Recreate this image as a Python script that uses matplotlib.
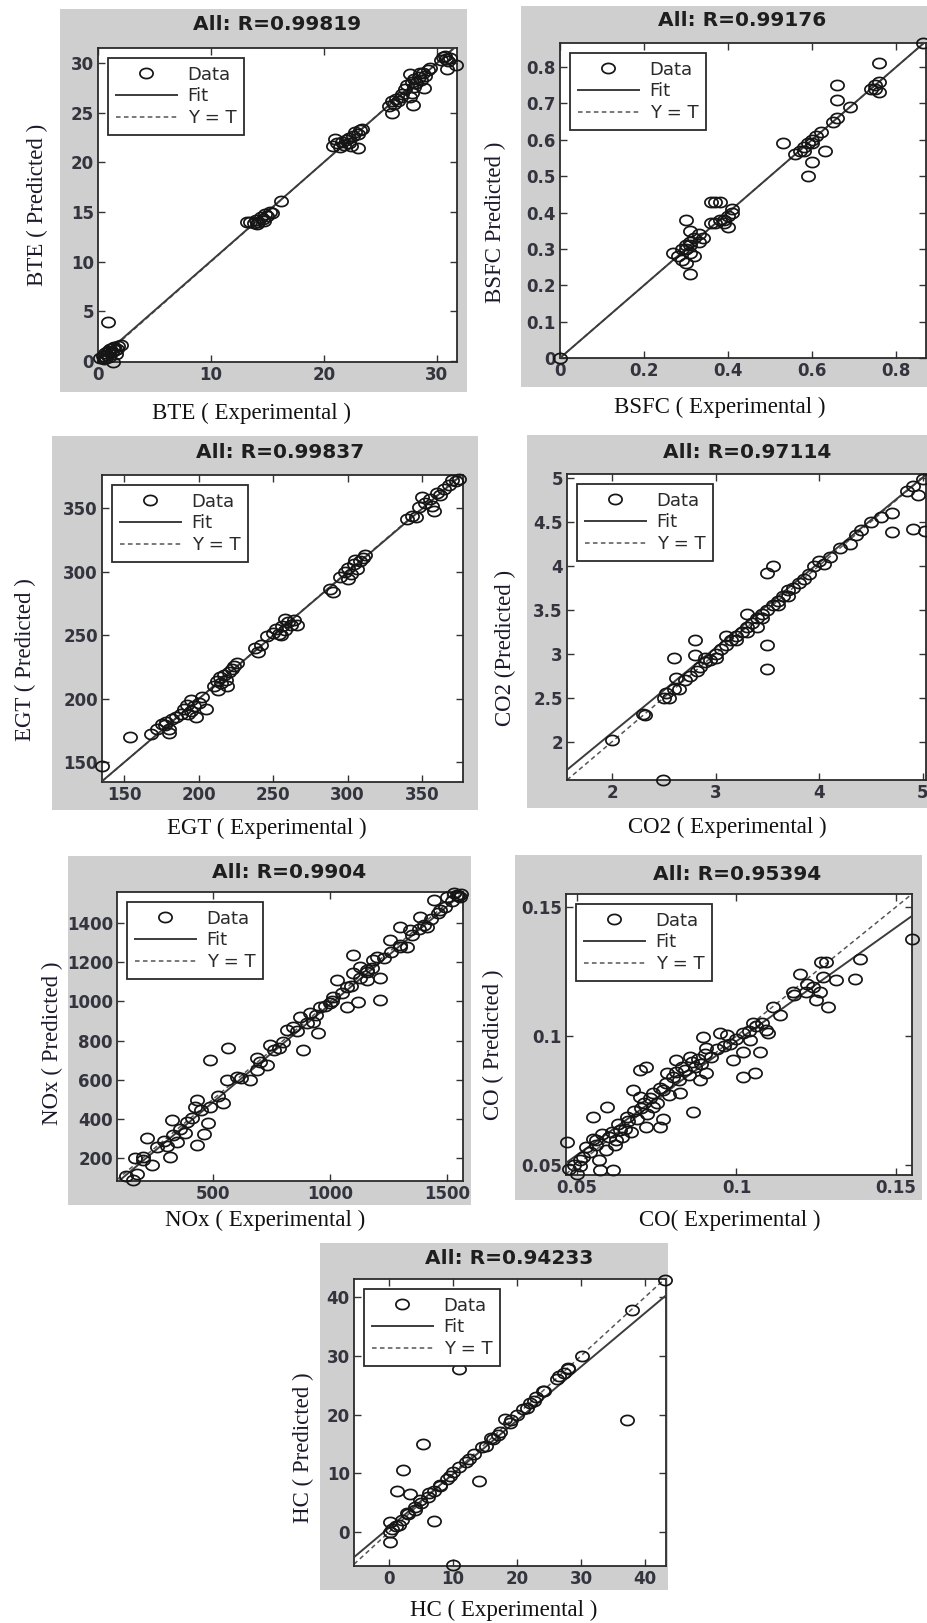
import numpy as np
import matplotlib
matplotlib.use("Agg")
import matplotlib.pyplot as plt
from matplotlib.path import Path
from matplotlib.lines import Line2D
from matplotlib.ticker import FormatStrFormatter

## Data (experimental, predicted) ----------------------------------------------
bte_pts = [(0.2, 0.3), (0.4, 0.5), (0.5, 0.2), (0.6, 0.8), (0.8, 0.6), (0.9, 1.0),
           (1.0, 0.4), (1.1, 1.2), (1.2, 0.9), (1.3, -0.1), (1.4, 1.4), (1.5, 1.1),
           (1.6, 0.7), (1.8, 1.5), (2.0, 1.6), (0.9, 3.9), (1.0, 0.9), (1.3, 1.3),
           (0.7, 0.3), (1.7, 1.2),
           (13.2, 14.0), (13.5, 14.0), (13.8, 13.9), (14.0, 14.2), (14.2, 14.0),
           (14.4, 14.5), (14.6, 14.3), (14.8, 14.8), (15.0, 14.6), (15.2, 15.0),
           (15.4, 14.9), (16.2, 16.1), (14.1, 13.8), (14.7, 14.1),
           (20.8, 21.6), (21.0, 22.3), (21.2, 21.9), (21.4, 21.5), (21.6, 22.0),
           (21.8, 21.7), (22.0, 22.2), (22.2, 21.9), (22.4, 21.6), (22.6, 22.6),
           (22.8, 23.0), (23.0, 22.8), (23.2, 23.2), (23.0, 21.4), (23.4, 23.3),
           (22.2, 22.4),
           (25.8, 25.7), (26.0, 26.2), (26.2, 25.9), (26.4, 26.4), (26.6, 26.2),
           (26.8, 26.6), (26.0, 25.0), (26.9, 26.9),
           (27.2, 27.4), (27.4, 27.8), (27.6, 28.9), (27.8, 28.1), (28.0, 27.6),
           (28.0, 28.4), (28.2, 28.0), (28.4, 28.6), (28.6, 28.3), (28.8, 29.0),
           (29.0, 28.7), (29.2, 29.3), (29.4, 29.5), (27.9, 25.8), (27.6, 26.6),
           (28.9, 27.5), (27.8, 27.0), (28.5, 29.0),
           (30.4, 30.3), (30.6, 30.6), (30.8, 30.4), (31.0, 30.2), (30.9, 29.4),
           (31.2, 30.5), (31.7, 29.8), (30.7, 30.7)]

bsfc_pts = [(0.0, 0.0), (0.864, 0.865),
            (0.27, 0.29), (0.28, 0.28), (0.29, 0.27), (0.30, 0.30), (0.30, 0.31),
            (0.31, 0.32), (0.31, 0.29), (0.32, 0.33), (0.33, 0.32), (0.34, 0.33),
            (0.30, 0.38), (0.31, 0.35), (0.30, 0.26), (0.31, 0.23), (0.32, 0.28),
            (0.31, 0.31), (0.29, 0.30), (0.33, 0.34),
            (0.36, 0.43), (0.37, 0.43), (0.38, 0.43), (0.36, 0.37), (0.37, 0.37),
            (0.38, 0.38), (0.39, 0.38), (0.40, 0.39), (0.41, 0.40), (0.41, 0.41),
            (0.40, 0.36), (0.39, 0.37), (0.53, 0.59),
            (0.56, 0.56), (0.57, 0.57), (0.58, 0.58), (0.59, 0.59), (0.60, 0.59),
            (0.60, 0.60), (0.61, 0.61), (0.62, 0.62), (0.59, 0.50), (0.60, 0.54),
            (0.63, 0.57), (0.58, 0.57),
            (0.65, 0.65), (0.66, 0.66), (0.66, 0.75), (0.66, 0.71), (0.69, 0.69),
            (0.74, 0.74), (0.75, 0.75), (0.76, 0.76), (0.76, 0.81), (0.76, 0.73),
            (0.75, 0.74)]

egt_pts = [(135, 147), (154, 170),
           (168, 172), (172, 176), (175, 180), (178, 182), (180, 176), (182, 184),
           (185, 186), (180, 173), (177, 179),
           (188, 188), (190, 192), (192, 195), (195, 190), (197, 194), (200, 197),
           (198, 186), (202, 201), (205, 192), (195, 199), (193, 188),
           (210, 210), (212, 214), (214, 217), (215, 212), (217, 219), (218, 215),
           (220, 221), (222, 223), (224, 226), (226, 228), (213, 207), (219, 210),
           (238, 240), (240, 237), (242, 242), (246, 249),
           (250, 252), (252, 255), (254, 251), (256, 257), (258, 254), (260, 260),
           (262, 258), (264, 262), (255, 250), (258, 263), (266, 258),
           (288, 286), (290, 284),
           (295, 296), (298, 300), (300, 303), (302, 298), (304, 306), (306, 302),
           (308, 308), (310, 311), (312, 313), (300, 294), (305, 309),
           (340, 341), (343, 344), (346, 343), (348, 351), (350, 359), (352, 354),
           (355, 357), (357, 352), (360, 362), (362, 360), (365, 365), (368, 368),
           (370, 372), (373, 371), (375, 373), (358, 348)]

co2_pts = [(2.0, 2.02), (2.3, 2.32), (2.32, 2.30), (2.49, 1.57), (2.5, 2.5),
           (2.52, 2.55), (2.55, 2.5), (2.6, 2.6), (2.6, 2.95), (2.62, 2.72),
           (2.65, 2.6), (2.7, 2.7), (2.75, 2.75), (2.8, 3.15), (2.8, 2.98),
           (2.82, 2.8), (2.85, 2.85), (2.9, 2.9), (2.95, 2.93), (3.0, 3.0),
           (3.05, 3.05), (3.1, 3.1), (3.1, 3.2), (3.15, 3.15), (3.2, 3.2),
           (3.25, 3.25), (3.3, 3.3), (3.3, 3.45), (3.35, 3.35), (3.4, 3.4),
           (3.4, 3.3), (3.45, 3.45), (3.5, 3.5), (3.5, 3.1), (3.5, 2.83),
           (3.5, 3.92), (3.55, 4.0), (3.55, 3.55), (3.6, 3.6), (3.65, 3.65),
           (3.7, 3.72), (3.75, 3.75), (3.8, 3.8), (3.85, 3.85), (3.9, 3.9),
           (3.95, 4.0), (4.0, 4.05), (4.05, 4.02), (4.1, 4.1), (4.2, 4.2),
           (4.3, 4.25), (4.35, 4.35), (4.4, 4.4), (4.5, 4.5), (4.6, 4.55),
           (4.7, 4.6), (4.85, 4.85), (4.9, 4.9), (5.0, 4.98), (4.7, 4.38),
           (4.9, 4.42), (5.02, 4.39), (3.2, 3.15), (3.3, 3.25), (3.45, 3.4),
           (3.6, 3.55), (2.9, 2.95), (3.0, 2.95), (3.7, 3.65), (4.95, 4.8)]

nox_pts = [(167, 198), (200, 205), (217, 300), (175, 120), (160, 88), (238, 164),
           (316, 205), (323, 394), (302, 260), (345, 280), (388, 385), (380, 330),
           (430, 265), (430, 496), (423, 460), (460, 325), (480, 380), (487, 460),
           (487, 700), (544, 479), (565, 760), (558, 598), (601, 615), (658, 598),
           (687, 709), (687, 650), (730, 677), (744, 777), (780, 760), (815, 854),
           (843, 871), (885, 752), (870, 922), (913, 939), (927, 896), (948, 837),
           (956, 973), (1000, 990), (1014, 1024), (1028, 1109), (1071, 973),
           (1071, 1075), (1121, 998), (1100, 1143), (1100, 1237), (1128, 1177),
           (1157, 1160), (1185, 1211), (1200, 1228), (1214, 1117), (1214, 1007),
           (1157, 1109), (1256, 1313), (1300, 1279), (1328, 1279), (1300, 1381),
           (1342, 1364), (1385, 1432), (1414, 1381), (1442, 1517), (1471, 1466),
           (1500, 1534), (1528, 1551), (1556, 1534), (1543, 1543),
           (260, 255), (290, 285), (330, 320), (360, 350), (410, 405), (450, 445),
           (520, 515), (620, 610), (700, 690), (760, 750), (800, 790), (860, 850),
           (900, 890), (940, 930), (980, 975), (1010, 1000), (1050, 1040),
           (1090, 1080), (1130, 1120), (1160, 1150), (1180, 1170), (1230, 1220),
           (1260, 1250), (1300, 1290), (1350, 1340), (1380, 1370), (1400, 1390),
           (1430, 1420), (1460, 1450), (1490, 1480), (1520, 1510), (1545, 1540),
           (1560, 1550), (130, 110), (200, 190)]

co_pts = [(0.0468, 0.059), (0.0499, 0.0467), (0.0509, 0.0519), (0.0551, 0.0687),
          (0.0561, 0.0597), (0.0572, 0.0481), (0.0593, 0.0726), (0.0614, 0.0481),
          (0.0624, 0.0597), (0.0635, 0.0636), (0.0656, 0.0687), (0.0677, 0.079),
          (0.0697, 0.0868), (0.0718, 0.0881), (0.0697, 0.0765), (0.0718, 0.0649),
          (0.0739, 0.0726), (0.0770, 0.068), (0.0760, 0.0649), (0.0781, 0.0855),
          (0.0812, 0.0907), (0.0823, 0.0778), (0.0854, 0.092), (0.0864, 0.0707),
          (0.0885, 0.0829), (0.0896, 0.0997), (0.0906, 0.0855), (0.0906, 0.0952),
          (0.0948, 0.101), (0.0969, 0.1003), (0.0990, 0.0907), (0.1021, 0.101),
          (0.1021, 0.0939), (0.1021, 0.0842), (0.1058, 0.0855), (0.1042, 0.0984),
          (0.1073, 0.0939), (0.1052, 0.1049), (0.1094, 0.1022), (0.110, 0.101),
          (0.1115, 0.1113), (0.1136, 0.108), (0.1178, 0.117), (0.1198, 0.1242),
          (0.1219, 0.117), (0.125, 0.1138), (0.1261, 0.117), (0.1266, 0.1287),
          (0.1282, 0.1287), (0.1287, 0.1113), (0.1313, 0.1216), (0.1371, 0.1222),
          (0.1387, 0.13), (0.1549, 0.1377), (0.1271, 0.123),
          (0.052, 0.053), (0.053, 0.057), (0.054, 0.055), (0.055, 0.060),
          (0.056, 0.058), (0.057, 0.052), (0.058, 0.062), (0.059, 0.056),
          (0.060, 0.061), (0.061, 0.063), (0.062, 0.058), (0.063, 0.066),
          (0.064, 0.061), (0.065, 0.064), (0.066, 0.067), (0.067, 0.063),
          (0.068, 0.071), (0.069, 0.068), (0.070, 0.072), (0.071, 0.074),
          (0.072, 0.070), (0.073, 0.076), (0.074, 0.078), (0.075, 0.074),
          (0.076, 0.080), (0.077, 0.079), (0.078, 0.082), (0.079, 0.077),
          (0.080, 0.084), (0.081, 0.086), (0.082, 0.083), (0.083, 0.088),
          (0.084, 0.087), (0.085, 0.085), (0.086, 0.090), (0.087, 0.088),
          (0.088, 0.091), (0.089, 0.089), (0.090, 0.093), (0.092, 0.092),
          (0.094, 0.095), (0.096, 0.096), (0.098, 0.097), (0.100, 0.099),
          (0.104, 0.102), (0.106, 0.104), (0.108, 0.105), (0.118, 0.116),
          (0.122, 0.120), (0.124, 0.119), (0.0475, 0.0485), (0.049, 0.050),
          (0.051, 0.0495)]

hc_pts = [(0.2, 1.7), (0.2, -1.7), (0.2, 0.0), (1.2, 7.0), (1.5, 1.2), (2.2, 10.5),
          (3.3, 6.5), (2.8, 3.2), (4.1, 4.3), (5.3, 15.0), (4.8, 5.5), (6.3, 6.7),
          (7.0, 1.8), (7.9, 8.0), (9.0, 9.0), (10.0, 10.2), (10.0, -5.7),
          (11.0, 27.8), (12.0, 12.0), (13.2, 13.2), (14.0, 8.7), (15.2, 14.6),
          (16.3, 15.8), (17.3, 17.0), (18.1, 19.2), (18.9, 18.6), (20.0, 20.0),
          (21.6, 21.1), (22.6, 22.3), (24.2, 24.0), (26.3, 26.0), (27.3, 27.0),
          (27.9, 28.0), (30.2, 30.0), (37.2, 19.0), (38.0, 37.8), (43.1, 43.0),
          (0.5, 0.5), (1.0, 1.0), (2.0, 2.0), (3.0, 3.0), (4.0, 3.8), (5.0, 5.0),
          (6.0, 6.0), (7.0, 7.0), (8.0, 7.8), (9.5, 9.5), (11.0, 11.0),
          (12.5, 12.5), (14.5, 14.4), (16.0, 16.0), (17.0, 16.5), (19.0, 19.0),
          (21.0, 21.0), (22.0, 22.0), (23.0, 23.0), (24.0, 24.0), (26.5, 26.5),
          (28.0, 27.8)]

r_values = ["0.99819", "0.99176", "0.99837", "0.97114", "0.9904", "0.95394", "0.94233"]
x_labels = ["BTE ( Experimental )", "BSFC ( Experimental )", "EGT ( Experimental )",
            "CO2 ( Experimental )", "NOx ( Experimental )", "CO( Experimental )",
            "HC ( Experimental )"]
y_labels = ["BTE ( Predicted )", "BSFC Predicted )", "EGT ( Predicted )",
            "CO2 (Predicted )", "NOx ( Predicted )", "CO ( Predicted )",
            "HC ( Predicted )"]
# fit line: Output = slope*Target + intercept
fit_slope = [0.995, 1.0, 0.997, 0.967, 1.0, 0.882, 0.914]
fit_icpt = [0.1, 0.0, 0.5, 0.167, -15.0, 0.0098, 0.73]
x_lims = [(0, 31.8), (0, 0.871), (135, 377.5), (1.565, 5.03), (90, 1568), (0.0466, 0.155), (-5.5, 43.3)]
y_lims = [(-0.1, 31.5), (0, 0.866), (134.5, 376), (1.565, 5.04), (83, 1558), (0.0462, 0.155), (-5.8, 43.1)]
x_ticks = [[0, 10, 20, 30], [0, 0.2, 0.4, 0.6, 0.8], [150, 200, 250, 300, 350],
           [2, 3, 4, 5], [500, 1000, 1500], [0.05, 0.1, 0.15], [0, 10, 20, 30, 40]]
y_ticks = [[0, 5, 10, 15, 20, 25, 30], [0, 0.1, 0.2, 0.3, 0.4, 0.5, 0.6, 0.7, 0.8],
           [150, 200, 250, 300, 350], [2, 2.5, 3, 3.5, 4, 4.5, 5],
           [200, 400, 600, 800, 1000, 1200, 1400], [0.05, 0.1, 0.15],
           [0, 10, 20, 30, 40]]
all_pts = [bte_pts, bsfc_pts, egt_pts, co2_pts, nox_pts, co_pts, hc_pts]

## Layout (pixels of the 927 x 1623 picture) -----------------------------------
W, H = 927, 1623
gray_px = [(60, 9, 467, 392), (521, 6, 927, 387), (52, 436, 478, 810),
           (527, 435, 927, 808), (68, 856, 471, 1205), (515, 855, 922, 1200),
           (320, 1243, 668, 1590)]
axes_px = [(98, 48, 457, 362), (560, 43, 926, 358), (102, 475, 463, 782),
           (567, 474, 926, 780), (117, 892, 463, 1181), (566, 894, 912, 1175),
           (354, 1279, 666, 1566)]
title_px = [(277, 24), (742, 21), (280, 453), (747, 452), (289, 872), (737, 875), (509, 1258)]
xlab_px = [(251, 413), (720, 407), (267, 828), (727, 827), (265, 1220), (730, 1220), (504, 1610)]
ylab_px = [(37, 205), (495, 222), (25, 660), (505, 648), (52, 1043), (493, 1045), (303, 1448)]

GRAY = '#cfcfcf'
TICKC = '#34343f'
INK = '#1e1e1e'


def fig_rect(b):
    x0, y0, x1, y1 = b
    return [x0/W, 1 - y1/H, (x1 - x0)/W, (y1 - y0)/H]


def fx(x):
    return x/W


def fy(y):
    return 1 - y/H


# circles in the reference are a bit wider than tall
th = np.linspace(0, 2*np.pi, 41)
oval = Path(np.column_stack([1.3*np.cos(th), np.sin(th)]), closed=True)

fig = plt.figure(figsize=(W/100, H/100), dpi=100)
fig.patch.set_facecolor('white')

for i in range(7):
    # gray panel behind each plot: a bare axes drawn first
    bg = fig.add_axes(fig_rect(gray_px[i]), zorder=-1)
    bg.set_facecolor(GRAY)
    bg.set_xticks([])
    bg.set_yticks([])
    for sp in bg.spines.values():
        sp.set_visible(False)

    ax = fig.add_axes(fig_rect(axes_px[i]), zorder=1)
    ax.set_facecolor('white')
    pts = np.array(all_pts[i], dtype=float)
    xl = np.array(x_lims[i])
    ax.plot(xl, xl, ls='--', color='#555555', lw=1.1, dashes=(3, 2.2), zorder=2)
    ax.plot(xl, fit_slope[i]*xl + fit_icpt[i], color='#3c3c3c', lw=1.4, zorder=3)
    ax.plot(pts[:, 0], pts[:, 1], ls='none', marker=oval, ms=9.5, mfc='none',
            mec='#151515', mew=1.25, zorder=4, clip_on=False)
    ax.set_xlim(x_lims[i])
    ax.set_ylim(y_lims[i])
    ax.set_xticks(x_ticks[i])
    ax.set_yticks(y_ticks[i])
    ax.xaxis.set_major_formatter(FormatStrFormatter('%g'))
    ax.yaxis.set_major_formatter(FormatStrFormatter('%g'))
    ax.tick_params(direction='in', top=True, right=True, length=5, width=1.0,
                   color='#333333', labelcolor=TICKC, labelsize=12, pad=3)
    for lab in ax.get_xticklabels() + ax.get_yticklabels():
        lab.set_fontweight('bold')
        lab.set_family('DejaVu Sans')
    for sp in ax.spines.values():
        sp.set_color('#2b2b2b')
        sp.set_linewidth(1.3)

    handles = [Line2D([], [], ls='none', marker=oval, ms=9.5, mfc='none', mec='#151515', mew=1.25),
               Line2D([], [], color='#3c3c3c', lw=1.4),
               Line2D([], [], color='#555555', lw=1.1, ls='--', dashes=(3, 2.2))]
    leg = ax.legend(handles, ['Data', 'Fit', 'Y = T'], loc='upper left',
                    borderaxespad=0.55, fancybox=False, framealpha=1,
                    edgecolor='#2b2b2b', prop={'family': 'DejaVu Sans', 'size': 13},
                    handlelength=3.4, handletextpad=0.6, labelspacing=0.22,
                    borderpad=0.42, numpoints=1)
    leg.get_frame().set_linewidth(1.3)
    for t in leg.get_texts():
        t.set_color('#2a2a2a')
    leg.set_zorder(6)

    tx, ty = title_px[i]
    fig.text(fx(tx), fy(ty), 'All: R=' + r_values[i], ha='center', va='center',
             fontsize=14.5, fontweight='bold', family='DejaVu Sans', color=INK)
    lx, ly = xlab_px[i]
    fig.text(fx(lx), fy(ly), x_labels[i], ha='center', va='center',
             fontsize=16.5, family='Liberation Serif', color='#111111')
    yx, yy = ylab_px[i]
    fig.text(fx(yx), fy(yy), y_labels[i], ha='center', va='center', rotation=90,
             fontsize=16.5, family='Liberation Serif', color='#1a1a2c')

fig.savefig('out.png', dpi=100)
